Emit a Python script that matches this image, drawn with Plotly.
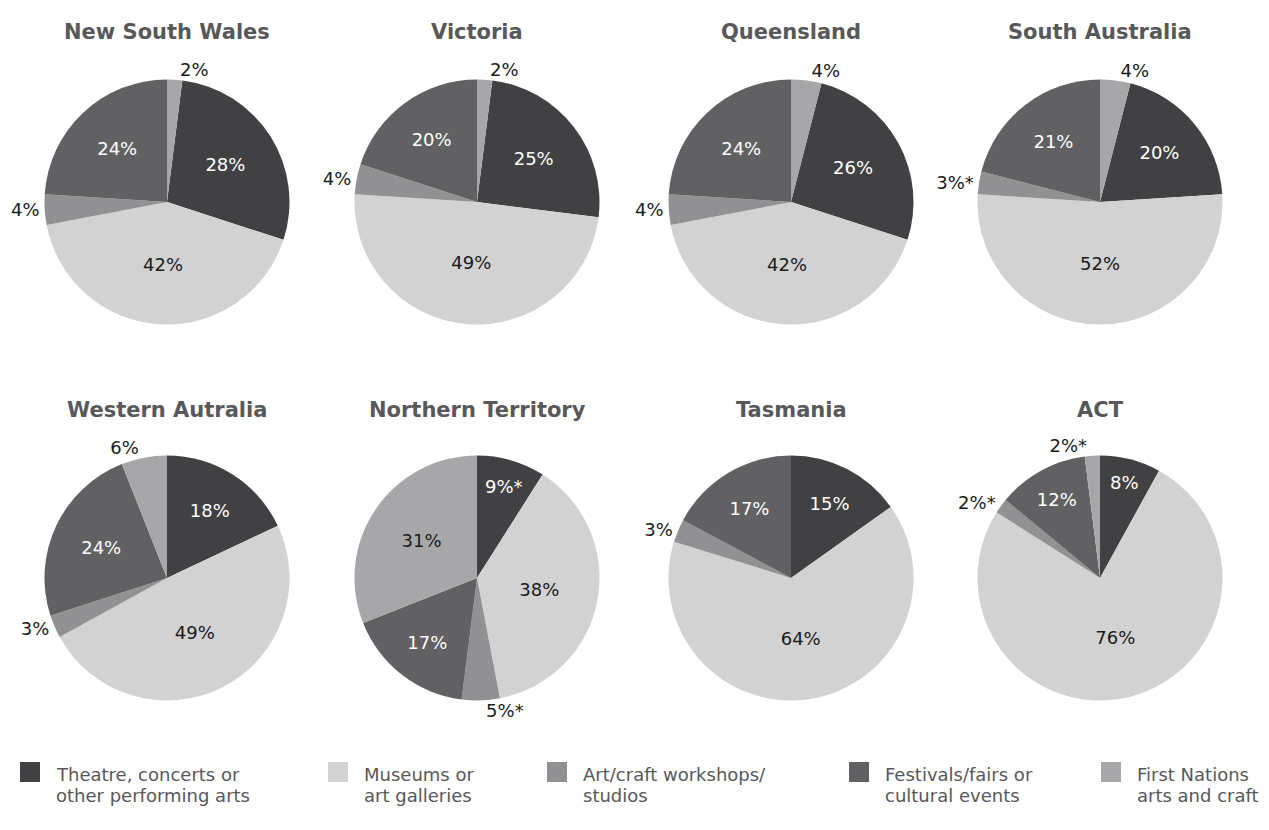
import plotly.graph_objects as go

# ---- data ----
regions = ["New South Wales", "Victoria", "Queensland", "South Australia",
           "Western Autralia", "Northern Territory", "Tasmania", "ACT"]
categories = ["Theatre, concerts or other performing arts", "Museums or art galleries",
              "Art/craft workshops/ studios", "Festivals/fairs or cultural events",
              "First Nations arts and craft"]
legend_lines = [["Theatre, concerts or", "other performing arts"],
                ["Museums or", "art galleries"],
                ["Art/craft workshops/", "studios"],
                ["Festivals/fairs or", "cultural events"],
                ["First Nations", "arts and craft"]]
theatre = [28, 25, 26, 20, 18, 9, 15, 8]
museums = [42, 49, 42, 52, 49, 38, 64, 76]
artcraft = [4, 4, 4, 3, 3, 5, 3, 2]
festivals = [24, 20, 24, 21, 24, 17, 17, 12]
first_nations = [2, 2, 4, 4, 6, 31, 0, 2]
# asterisk flags (estimate has high margin of error), per category per region
flag_theatre = [0, 0, 0, 0, 0, 1, 0, 0]
flag_museums = [0, 0, 0, 0, 0, 0, 0, 0]
flag_artcraft = [0, 0, 0, 1, 0, 1, 0, 1]
flag_festivals = [0, 0, 0, 0, 0, 0, 0, 0]
flag_first_nations = [0, 0, 0, 0, 0, 0, 0, 1]
# slice that sits first at 12 o'clock: row 1 starts with First Nations
starts_with_first_nations = [1, 1, 1, 1, 0, 0, 0, 0]

# ---- style ----
colors = ["#414143", "#d2d2d3", "#919193", "#616163", "#a7a7a9"]
inside_text_colors = ["#ffffff", "#1a1a1a", "#1a1a1a", "#ffffff", "#1a1a1a"]
W, H = 1269, 830
col_centers = [167, 477, 791, 1100]
row_centers = [202, 578]
radius = 122.5
title_y = [32, 410]
FONT = "DejaVu Sans"

series = [theatre, museums, artcraft, festivals, first_nations]
flags = [flag_theatre, flag_museums, flag_artcraft, flag_festivals, flag_first_nations]

fig = go.Figure()
annotations = []
shapes = []
for i, region in enumerate(regions):
    r, c = divmod(i, 4)
    cx, cy = col_centers[c], row_centers[r]
    vals = [s[i] for s in series]
    texts = [f"{v}%" + ("*" if f[i] else "") for v, f in zip(vals, flags)]
    positions = [("outside" if v <= 6 else "inside") if v > 0 else "none" for v in vals]
    rotation = 3.6 * first_nations[i] if starts_with_first_nations[i] else 0
    fig.add_trace(go.Pie(
        labels=categories, values=vals, text=texts, texttemplate="%{text}",
        textposition=positions, sort=False, direction="clockwise", rotation=rotation,
        marker=dict(colors=colors, line=dict(width=0)),
        insidetextfont=dict(color=inside_text_colors, size=18, family=FONT),
        outsidetextfont=dict(color="#1a1a1a", size=18, family=FONT),
        insidetextorientation="horizontal",
        showlegend=False, hoverinfo="label+value",
        domain=dict(x=[(cx - radius) / W, (cx + radius) / W],
                    y=[1 - (cy + radius) / H, 1 - (cy - radius) / H]),
    ))
    annotations.append(dict(text=region, x=cx / W, y=1 - title_y[r] / H, xref="paper", yref="paper",
                            showarrow=False, xanchor="center", yanchor="middle",
                            font=dict(size=21, color="#58585a", family=FONT, weight="bold")))

# ---- legend (drawn manually) ----
legend_x = [20, 328, 547, 849, 1101]
legend_sq_top, legend_sq_size = 762, 20
legend_line_y = [774, 795]
for k, lines in enumerate(legend_lines):
    x0 = legend_x[k]
    shapes.append(dict(type="rect", xref="paper", yref="paper",
                       x0=x0 / W, x1=(x0 + legend_sq_size) / W,
                       y0=1 - (legend_sq_top + legend_sq_size) / H, y1=1 - legend_sq_top / H,
                       fillcolor=colors[k], line=dict(width=0)))
    for j, line in enumerate(lines):
        annotations.append(dict(text=line, x=(x0 + 34) / W, y=1 - legend_line_y[j] / H,
                                xref="paper", yref="paper", showarrow=False, xanchor="left",
                                yanchor="middle", align="left",
                                font=dict(size=18, color="#58585a", family=FONT)))

fig.update_layout(width=W, height=H, margin=dict(l=0, r=0, t=0, b=0),
                  paper_bgcolor="white", plot_bgcolor="white",
                  annotations=annotations, shapes=shapes)
fig.write_html("out.html", config={"displayModeBar": False},
               post_script="document.body.style.margin='0px';")
